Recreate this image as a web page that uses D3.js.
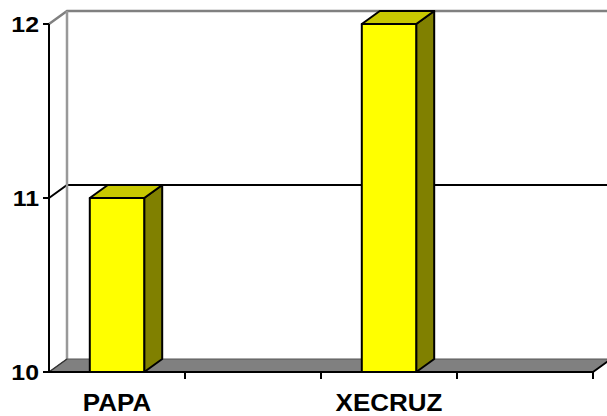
<!DOCTYPE html>
<html><head><meta charset="utf-8">
<script src="https://cdn.jsdelivr.net/npm/d3@7"></script>
<style>body{margin:0;background:#fff}svg{display:block}</style>
</head><body>
<svg id="c" width="607" height="416"></svg>
<script>
const categories = ["PAPA", "", "XECRUZ", ""];
const values = [11, null, 12, null];
const yTicks = [10, 11, 12];

const svg = d3.select("#c");
const W = 607, H = 416;
const x0 = 49, x1 = 593, yBot = 372, yTop = 24;
const dx = 18, dy = -13;
const y = d3.scaleLinear().domain([10, 12]).range([yBot, yTop]);
const xb = d3.scaleBand().domain(d3.range(categories.length)).range([x0, x1]).paddingInner(0.6).paddingOuter(0.3);
const xs = d3.scaleBand().domain(d3.range(categories.length)).range([x0, x1]).padding(0);

const g = svg.append("g");
// back wall
g.append("rect").attr("x", x0 + dx).attr("y", yTop + dy).attr("width", W).attr("height", yBot - yTop).attr("fill", "#fff");
// gridlines (interior)
yTicks.filter(t => t > 10 && t < 12).forEach(t => {
  g.append("path").attr("d", `M${x0},${y(t)}L${x0+dx},${y(t)+dy}L${W+5},${y(t)+dy}`)
    .attr("fill", "none").attr("stroke", "#000").attr("stroke-width", 2);
});
// wall borders (gray)
g.append("path").attr("d", `M${x0},${yTop}L${x0+dx},${yTop+dy}L${W+5},${yTop+dy}`)
  .attr("fill", "none").attr("stroke", "#808080").attr("stroke-width", 2.5);
g.append("line").attr("x1", x0+dx).attr("x2", x0+dx).attr("y1", yTop+dy).attr("y2", yBot+dy)
  .attr("stroke", "#999").attr("stroke-width", 2.5);
// floor
g.append("path").attr("d", `M${x0},${yBot}L${x0+dx},${yBot+dy}L${x1+dx},${yBot+dy}L${x1},${yBot}Z`)
  .attr("fill", "#808080").attr("stroke", "#555").attr("stroke-width", 1);
g.append("path").attr("d", `M${x0},${yBot}L${x0+dx},${yBot+dy}`).attr("stroke", "#333").attr("stroke-width", 1.5);

// bars
categories.forEach((c, i) => {
  const v = values[i];
  if (v == null) return;
  const bx = xb(i), bw = xb.bandwidth(), ty = y(v), by = y(10);
  const bg = g.append("g").attr("stroke", "#000").attr("stroke-width", 2).attr("stroke-linejoin", "round");
  bg.append("path").attr("d", `M${bx+bw},${by}L${bx+bw+dx},${by+dy}L${bx+bw+dx},${ty+dy}L${bx+bw},${ty}Z`).attr("fill", "#808000");
  bg.append("path").attr("d", `M${bx},${ty}L${bx+dx},${ty+dy}L${bx+bw+dx},${ty+dy}L${bx+bw},${ty}Z`).attr("fill", "#c8c800");
  bg.append("rect").attr("x", bx).attr("y", ty).attr("width", bw).attr("height", by - ty).attr("fill", "#ffff00");
});

// y axis
g.append("line").attr("x1", x0).attr("x2", x0).attr("y1", yTop).attr("y2", yBot).attr("stroke", "#000").attr("stroke-width", 2);
yTicks.forEach(t => {
  g.append("line").attr("x1", x0-6).attr("x2", x0).attr("y1", y(t)).attr("y2", y(t)).attr("stroke", "#000").attr("stroke-width", 2);
  g.append("text").attr("transform", `translate(${x0-10},${y(t)+8}) scale(1.13,1)`)
    .attr("text-anchor", "end").attr("font-family", "Liberation Sans, Arial, sans-serif")
    .attr("font-weight", "bold").attr("font-size", 22).attr("fill", "#000").text(t);
});
// x axis
g.append("line").attr("x1", x0).attr("x2", x1).attr("y1", yBot).attr("y2", yBot).attr("stroke", "#000").attr("stroke-width", 2);
g.append("path").attr("d", `M${x1},${yBot}L${x1+dx},${yBot+dy}`).attr("stroke", "#000").attr("stroke-width", 2);
categories.forEach((c, i) => {
  const tx = xs(i) + xs.bandwidth();
  g.append("line").attr("x1", tx).attr("x2", tx).attr("y1", yBot).attr("y2", yBot+7).attr("stroke", "#000").attr("stroke-width", 2);
  if (c) g.append("text").attr("transform", `translate(${xs(i)+xs.bandwidth()/2},${yBot+39}) scale(1.13,1)`)
    .attr("text-anchor", "middle").attr("font-family", "Liberation Sans, Arial, sans-serif")
    .attr("font-weight", "bold").attr("font-size", 23).attr("fill", "#000").text(c);
});
</script>
</body></html>
